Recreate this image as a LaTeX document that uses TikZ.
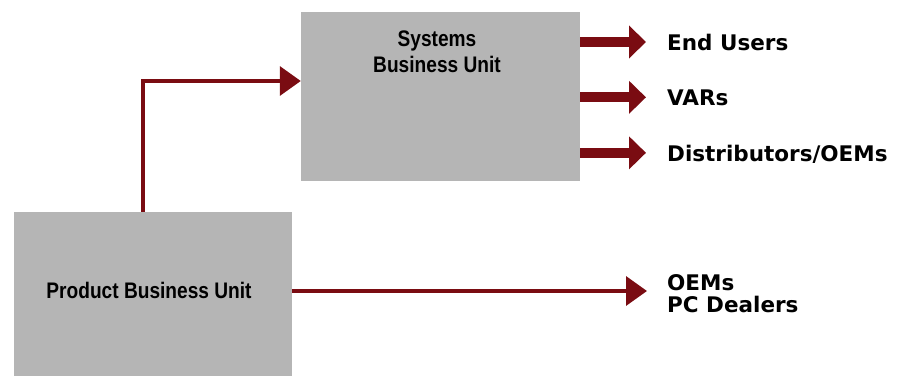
\documentclass[tikz,border=0pt]{standalone}
\usepackage{fontspec}
\usetikzlibrary{arrows.meta}
\setmainfont{DejaVu Sans}
\newfontfamily\labelfont{DejaVu Sans}
\newfontfamily\condfont[FakeStretch=0.85]{Liberation Sans}

\definecolor{unitgray}{RGB}{181,181,181}
\definecolor{flowred}{RGB}{122,12,18}

\tikzset{
  unitbox/.style={fill=unitgray, draw=none, inner sep=0pt},
  unittext/.style={font=\condfont\bfseries\fontsize{22.5}{26}\selectfont, inner sep=0pt, align=center},
  outlabel/.style={font=\labelfont\bfseries\fontsize{21.5}{22}\selectfont, inner sep=0pt, anchor=base west, align=left},
  thinflow/.style={draw=flowred, line width=3.5pt,
    -{Triangle[length=21pt,width=29pt]}, color=flowred},
  fatflow/.style={draw=flowred, line width=10pt,
    -{Triangle[length=17pt,width=32pt]}, color=flowred},
}

\begin{document}
\begin{tikzpicture}[x=1pt,y=-1pt]
  \useasboundingbox (0,0) rectangle (903,376);

  % business unit boxes
  \node[unitbox, minimum width=279pt, minimum height=169pt] (sbu) at (440.5,96.5) {};
  \node[unitbox, minimum width=278pt, minimum height=164pt] (pbu) at (153,294) {};

  \node[unittext, anchor=base] (sbutext) at (437,72) {Systems\\Business Unit};
  \node[unittext, anchor=base] (pbutext) at (149,298) {Product Business Unit};

  % channel labels
  \node[outlabel] (eu)   at (667,50)  {End Users};
  \node[outlabel] (vars) at (667,105) {VARs};
  \node[outlabel, text depth=0pt] (dist) at (667,161) {Distributors/OEMs};
  \node[outlabel, anchor=north west] (oem) at (667,274.5) {OEMs\\PC Dealers};

  % product unit feeds the systems unit
  \draw[thinflow] ([xshift=-10pt]pbu.north) |- ([yshift=15.5pt]sbu.west);

  % systems unit channels
  \draw[fatflow, shorten >=21pt] (sbu.east |- eu.west) -- (eu.west);
  \draw[fatflow, shorten >=21pt] (sbu.east |- vars.west) -- (vars.west);
  \draw[fatflow, shorten >=21pt] (sbu.east |- dist.west) -- (dist.west);

  % product unit channel
  \draw[thinflow, shorten >=20pt] ([yshift=3pt]pbu.east) -- ([yshift=3pt]pbu.east -| oem.west);
\end{tikzpicture}
\end{document}
